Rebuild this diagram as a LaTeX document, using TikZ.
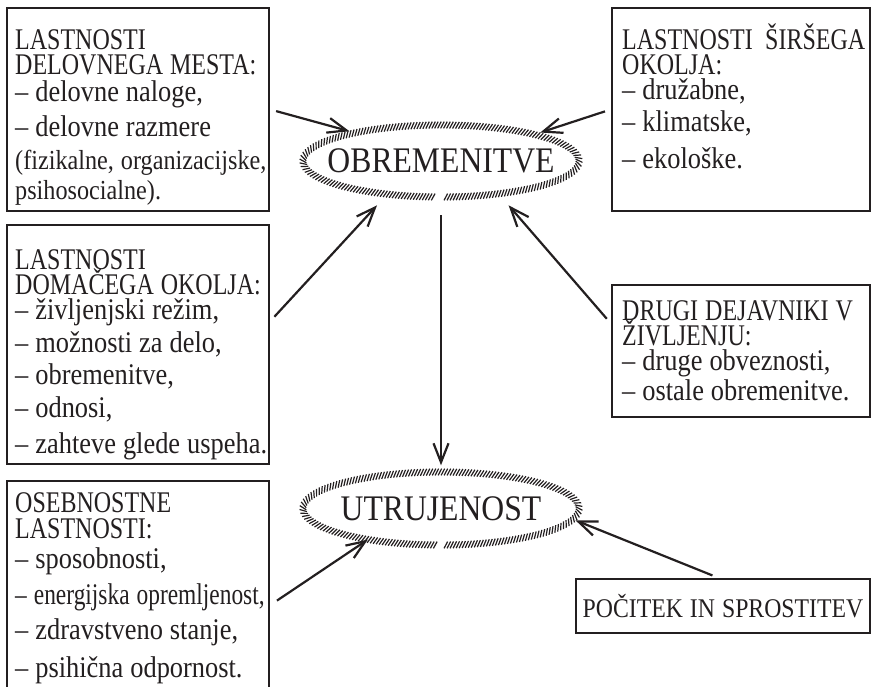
\documentclass[tikz,border=0pt]{standalone}
\usepackage{fontspec}
\setmainfont{Liberation Serif}[FakeStretch=0.88]
\newfontfamily\headfont{Liberation Serif}[FakeStretch=0.8]
\newfontfamily\narrowfont{Liberation Serif}[FakeStretch=0.78]
\usetikzlibrary{arrows.meta,shapes.geometric,decorations.markings}

\definecolor{ink}{HTML}{231F20}

\newcommand{\listfont}{\fontsize{30}{23}\selectfont\lineskiplimit=-100pt\spaceskip=7pt\relax}
\newcommand{\hd}[1]{{\headfont\fontsize{30}{23}\selectfont #1}}
\newcommand{\sm}[1]{{\fontsize{27.5}{23}\selectfont #1}}
\newcommand{\nr}[1]{{\narrowfont\fontsize{30}{23}\selectfont #1}}

\tikzset{
  box/.style={draw=ink, line width=2.6pt, inner sep=0pt},
  oval/.style={ellipse, inner sep=0pt, minimum width=276pt, minimum height=72pt,
    font=\fontsize{36}{40}\selectfont},
  listtext/.style={anchor=base west, inner sep=0pt, text width=#1, align=left},
  hatch/.style={decorate, decoration={markings,
    mark=between positions 0 and 1 step 3pt with
    {\draw[ink, line width=1.2pt] (-1.8pt,-3.4pt) -- (1.8pt,3.4pt);}}},
  arr/.style={draw=ink, line width=2.2pt, -{Straight Barb[length=19pt,width=15pt]}},
}

\begin{document}
\begin{tikzpicture}[x=1pt, y=1pt, text=ink]
  \useasboundingbox (0,0) rectangle (874,686);
  \clip (0,0) rectangle (874,686);

  % frames
  \node[box, minimum width=262pt, minimum height=203pt] (box1) at (138,576.5) {};
  \node[box, minimum width=258pt, minimum height=203pt] (box2) at (741,576.5) {};
  \node[box, minimum width=262pt, minimum height=239pt] (box3) at (138,341.5) {};
  \node[box, minimum width=258pt, minimum height=132pt] (box4) at (741,335) {};
  \node[box, minimum width=262pt, minimum height=225pt] (box5) at (138,92.5) {};
  \node[box, minimum width=294pt, minimum height=54pt,
        font={\fontsize{27}{32}\selectfont\spaceskip=7pt\relax}] (box6) at (723,80) {POČITEK IN SPROSTITEV};

  % box texts
  \node[listtext=270pt] (t1) at (15,636.5) {\listfont
    \hd{LASTNOSTI}\\[2pt]
    \hd{DELOVNEGA MESTA:}\\[4pt]
    – delovne naloge,\\[12pt]
    – delovne razmere\\[10pt]
    \sm{(fizikalne, organizacijske,}\\[4pt]
    \sm{psihosocialne).}};
  \node[listtext=243pt] (t2) at (622,636) {\listfont
    \hd{LASTNOSTI\hfill ŠIRŠEGA}\\[2pt]
    \hd{OKOLJA:}\\[2pt]
    – družabne,\\[9pt]
    – klimatske,\\[10pt]
    – ekološke.};
  \node[listtext=270pt] (t3) at (15,416) {\listfont
    \hd{LASTNOSTI}\\[2pt]
    \hd{DOMAČEGA OKOLJA:}\\[2pt]
    – življenjski režim,\\[10pt]
    – možnosti za delo,\\[9pt]
    – obremenitve,\\[9pt]
    – odnosi,\\[10pt]
    – zahteve glede uspeha.};
  \node[listtext=250pt] (t4) at (622,366) {\listfont
    \hd{DRUGI DEJAVNIKI V}\\[2pt]
    \hd{ŽIVLJENJU:}\\[2pt]
    – druge obveznosti,\\[2pt]
    – ostale obremenitve.};
  \node[listtext=270pt] (t5) at (15,174) {\listfont
    \hd{OSEBNOSTNE}\\[3pt]
    \hd{LASTNOSTI:}\\[7pt]
    – sposobnosti,\\[13pt]
    \nr{– energijska opremljenost,}\\[12pt]
    – zdravstveno stanje,\\[10pt]
    – psihična odpornost.};

  % ovals
  \node[oval] (ob) at (441,525) {OBREMENITVE};
  \node[oval] (ut) at (441,177.5) {UTRUJENOST};
  \path[hatch] (ob.center) ++(-88:138pt and 36pt)
    arc[start angle=-88, end angle=268, x radius=138pt, y radius=36pt];
  \path[hatch] (ut.center) ++(-88:138pt and 36.5pt)
    arc[start angle=-88, end angle=268, x radius=138pt, y radius=36.5pt];

  % arrows
  \draw[arr, shorten <=6pt] (box1.east) -- (ob.162);
  \draw[arr, shorten <=6pt] (box2.west) -- (ob.16);
  \draw[arr, shorten <=6pt, shorten >=14pt] (box3.10) -- (ob.212);
  \draw[arr, shorten <=6pt, shorten >=14pt] (box4.168) -- (ob.-30);
  \draw[arr, shorten <=18pt, shorten >=7pt] (ob.south) -- (ut.north);
  \draw[arr, shorten <=8pt] (box5.-5) -- (ut.203);
  \draw[arr, shorten <=6pt] (box6.100) -- (ut.-5);
\end{tikzpicture}
\end{document}
